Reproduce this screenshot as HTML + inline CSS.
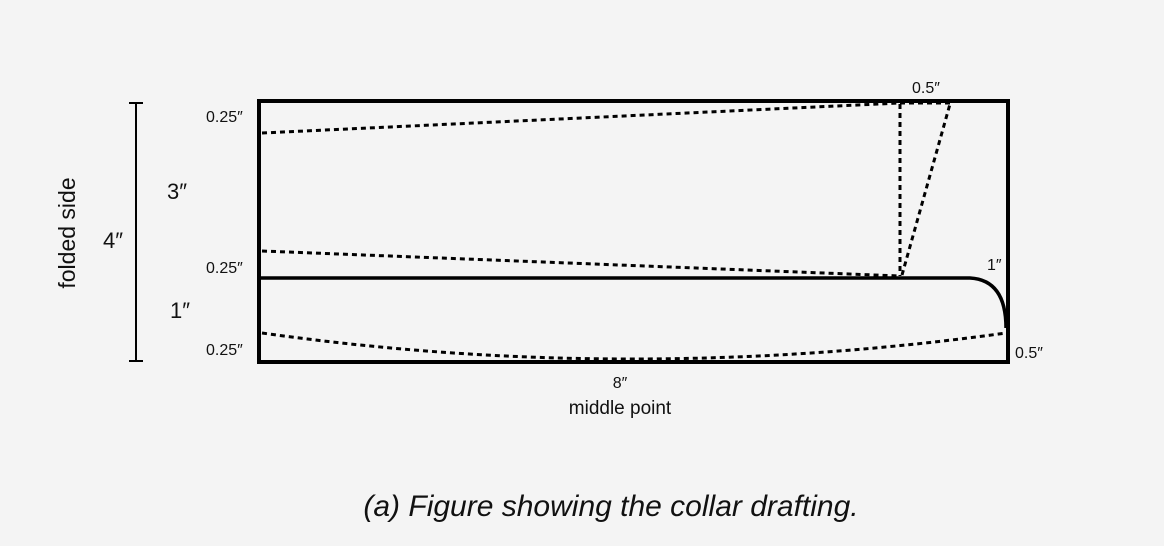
<!DOCTYPE html>
<html><head><meta charset="utf-8"><style>
html,body{margin:0;padding:0;background:#f4f4f4;}
svg{display:block;font-family:"Liberation Sans",sans-serif;}
</style></head><body>
<svg width="1164" height="546" viewBox="0 0 1164 546">
<rect width="1164" height="546" fill="#f4f4f4"/>
<g stroke="#000" fill="none">
<rect x="259" y="101" width="749" height="261" stroke-width="4"/>
<path d="M259 278 H970 Q1006 280 1006 328" stroke-width="3.5"/>
<path d="M136 103 V361 M129 103 H143 M129 361 H143" stroke-width="2"/>
<g stroke-width="3" stroke-dasharray="5 4">
<path d="M262 133 L900 103"/>
<path d="M900 103 H952"/>
<path d="M900 104 V276"/>
<path d="M902 275 L950 104"/>
<path d="M262 251 L900 276"/>
<path d="M262 333 Q630 385 1006 333"/>
</g>
</g>
<g fill="#111" font-size="16">
<text x="206" y="122">0.25″</text>
<text x="206" y="273">0.25″</text>
<text x="206" y="355">0.25″</text>
<text x="912" y="93">0.5″</text>
<text x="987" y="270">1″</text>
<text x="1015" y="358">0.5″</text>
<text x="620" y="388" text-anchor="middle">8″</text>
<text x="620" y="414" text-anchor="middle" font-size="19">middle point</text>
</g>
<g fill="#111" font-size="22">
<text x="167" y="199">3″</text>
<text x="103" y="248">4″</text>
<text x="170" y="318">1″</text>
<text transform="translate(75,233) rotate(-90)" text-anchor="middle" font-size="23">folded side</text>
</g>
<text x="611" y="516" text-anchor="middle" font-size="30" font-style="italic" fill="#111">(a) Figure showing the collar drafting.</text>
</svg>
</body></html>
